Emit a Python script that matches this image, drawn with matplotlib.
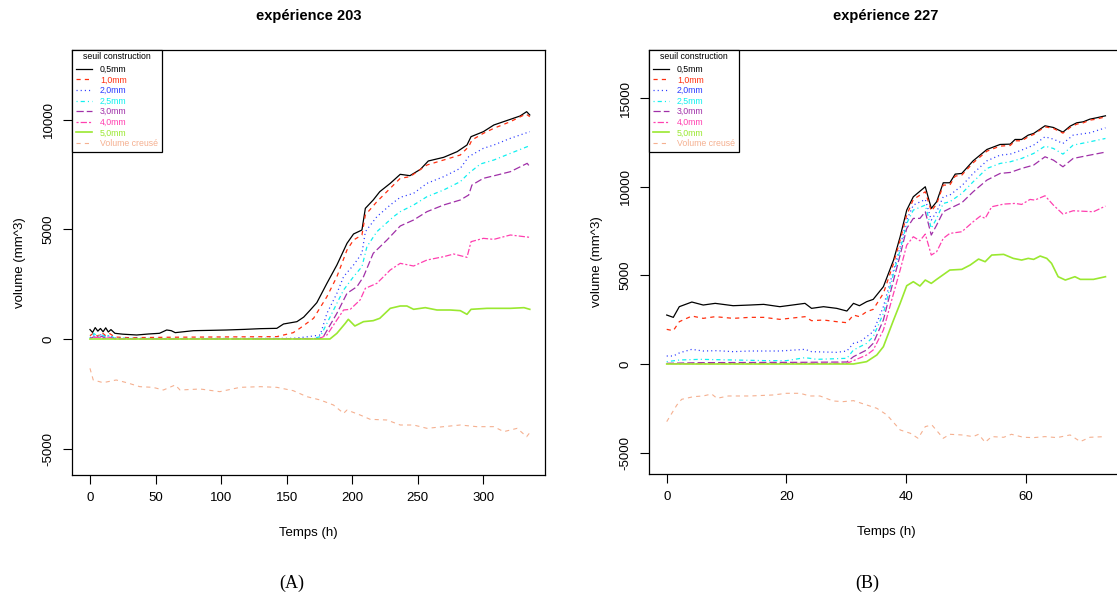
import matplotlib

matplotlib.use("Agg")

import matplotlib.pyplot as plt  # noqa: E402

plt.rcParams["font.family"] = ["Liberation Sans", "DejaVu Sans"]
plt.rcParams["lines.scale_dashes"] = False

labels = ["0,5mm", "1,0mm", "2,0mm", "2,5mm", "3,0mm", "4,0mm", "5,0mm", "Volume creusé"]

# --- expérience 203 (time in h, volume in mm^3) ---
black203_t = [0, 2, 4, 6, 8, 10, 12, 14, 16, 19, 25, 35.6, 45, 53, 58.5, 62, 65, 79, 92, 104, 118, 130,
              142.5, 147.6, 157.8, 163, 168, 173, 180.7, 188.3, 196, 201, 207.4, 210, 216, 221, 229, 236.6,
              244, 252, 258, 269.7, 280, 287.5, 290.6, 300, 308, 320.6, 328, 333, 335.4]
black203_v = [430, 300, 520, 360, 480, 330, 510, 320, 430, 260, 220, 183, 230, 260, 411, 380, 290, 380, 395,
              411, 440, 472, 487, 685, 791, 1000, 1324, 1659, 2542, 3379, 4368, 4795, 4977, 5966, 6347, 6727,
              7108, 7519, 7458, 7747, 8128, 8295, 8554, 8858, 9239, 9467, 9772, 10030, 10183, 10380, 10228]
red203_t = [0, 3, 6, 9, 12, 15, 19, 30, 60, 90, 120, 142.5, 155, 160, 170.5, 180.7, 188.3, 196, 201, 207.4,
            210, 218.8, 231.5, 236.6, 244, 257, 269.7, 282.4, 288.8, 291.3, 300, 308, 320.6, 332.5, 335.4]
red203_v = [150, 280, 120, 300, 150, 250, 90, 60, 80, 90, 100, 107, 289, 487, 944, 1933, 2846, 4064, 4520,
            4749, 5662, 6271, 7032, 7336, 7412, 7945, 8173, 8401, 8782, 9087, 9391, 9620, 9924, 10274, 10152]
blue203_t = [0, 3, 6, 9, 12, 15, 19, 60, 120, 155, 166.6, 175.6, 180.7, 188.3, 193.4, 201, 207.4, 210,
             218.8, 229, 236.6, 246.8, 257, 269.7, 282.4, 288.8, 300, 308, 320.6, 335.4]
blue203_v = [60, 180, 80, 220, 100, 160, 40, 20, 25, 30, 107, 183, 1172, 2085, 2846, 3379, 3912, 4901, 5586,
             6119, 6469, 6652, 7108, 7412, 7793, 8325, 8706, 8858, 9163, 9467]
cyan203_t = [0, 3, 6, 9, 12, 15, 19, 60, 120, 170, 175.6, 180.7, 188.3, 193.4, 201, 207.4, 211.2, 218.8,
             231.5, 236.6, 246.8, 257, 269.7, 282.4, 288.8, 297.7, 308, 320.6, 335.4]
cyan203_v = [40, 250, 120, 200, 80, 180, 30, 10, 10, 20, 107, 715, 1629, 2237, 2846, 3303, 4216, 4901, 5586,
             5814, 6119, 6499, 6804, 7184, 7564, 7990, 8173, 8477, 8828]
purple203_t = [0, 3, 6, 9, 12, 15, 19, 60, 120, 175, 178, 188.3, 196, 203.6, 208.6, 216, 226.5, 236.6,
               246.8, 257, 269.7, 282.4, 288.8, 291.3, 300, 310.5, 320.6, 333.4, 335.4]
purple203_v = [20, 100, 40, 120, 30, 80, 10, 5, 5, 20, 107, 1172, 2085, 2389, 2846, 3912, 4520, 5160, 5434,
               5814, 6119, 6347, 6575, 7032, 7336, 7488, 7640, 8021, 7869]
pink203_t = [0, 5, 10, 15, 19, 60, 120, 175, 180.7, 188.3, 193.4, 198.5, 206, 210, 218.8, 229, 236.6,
             246.8, 257, 269.7, 277.4, 287.5, 290.6, 300, 308, 320.6, 335.4]
pink203_v = [10, 80, 20, 60, 5, 0, 0, 20, 183, 868, 1324, 1355, 1781, 2313, 2542, 3151, 3455, 3333, 3607,
             3759, 3881, 3729, 4444, 4596, 4550, 4749, 4642]
green203_t = [0, 100, 183, 188.3, 194.7, 197, 202, 208.6, 216, 221, 229, 236.6, 241.7, 246.8, 255.7, 264.6,
              274.8, 282.4, 287.5, 290.6, 302.8, 320.6, 331, 335.4]
green203_v = [0, 0, 0, 259, 715, 898, 594, 792, 837, 944, 1400, 1507, 1507, 1355, 1431, 1324, 1324, 1294,
              1126, 1355, 1400, 1400, 1431, 1355]
salmon203_t = [0, 2.5, 10, 20, 28, 38, 48, 56, 65, 68.7, 84, 99, 114.5, 130, 142.5, 155, 165.4, 175.6,
               185.7, 193.4, 196, 206, 213.7, 226.5, 236.6, 246.8, 257, 269.7, 282.4, 295, 308, 315.5,
               325.8, 333, 335.4]
salmon203_v = [-1339, -1872, -1994, -1872, -1994, -2177, -2207, -2329, -2100, -2329, -2283, -2405, -2207,
               -2177, -2207, -2359, -2633, -2785, -3014, -3394, -3242, -3470, -3668, -3699, -3927, -3927,
               -4079, -4003, -3927, -4003, -4003, -4231, -4079, -4460, -4277]

# --- expérience 227 ---
bk227_t = [0, 1.1, 2.1, 4.2, 6.1, 8.1, 11.1, 13.9, 16.2, 18.9, 23.1, 24.2, 26.2, 28.4, 30.1, 31.2, 32.2,
           33.4, 34.5, 36.2, 37.9, 39.0, 40.1, 41.2, 43.2, 44.2, 45.1, 46.2, 47.3, 48.2, 49.3, 51.2, 53.5,
           55.7, 57.4, 58.2, 59.3, 60.4, 61.3, 63.2, 64.6, 66.2, 67.4, 68.5, 69.6, 70.7, 71.8, 73.3]
black227_v = [2764, 2632, 3234, 3497, 3328, 3422, 3290, 3328, 3365, 3234, 3422, 3140, 3234, 3140, 2989,
              3422, 3290, 3516, 3647, 4362, 5866, 7182, 8686, 9438, 10002, 8780, 9156, 10227, 10227, 10716,
              10754, 11468, 12107, 12389, 12408, 12671, 12671, 12916, 13010, 13442, 13348, 13085, 13423,
              13611, 13668, 13818, 13893, 14006]
red227_v = [1955, 1880, 2388, 2707, 2576, 2670, 2576, 2632, 2632, 2519, 2670, 2444, 2482, 2388, 2331, 2764,
            2670, 2952, 3083, 3986, 5678, 6994, 8404, 9287, 9720, 8629, 9024, 10096, 10096, 10603, 10660,
            11355, 12013, 12295, 12333, 12596, 12596, 12822, 12953, 13386, 13292, 13028, 13348, 13536,
            13611, 13762, 13818, 13950]
blue227_t = [0, 1.1, 2.2, 4.2, 6.1, 8.4, 11.1, 13.9, 18.9, 23.1, 24.2, 28.4, 30.1, 31.2, 32.3, 33.4, 34.5,
             36.2, 37.9, 39.0, 40.1, 41.2, 43.2, 44.2, 45.1, 46.2, 47.3, 49.3, 51.2, 53.5, 55.7, 57.4, 59.3,
             61.3, 63.2, 64.6, 66.2, 67.9, 70.7, 73.3]
blue227_v = [451, 451, 639, 827, 733, 752, 696, 733, 733, 827, 696, 658, 733, 1166, 1260, 1542, 1824, 3234,
             5302, 6618, 8122, 8968, 9287, 8122, 8592, 9438, 9532, 10058, 10754, 11468, 11788, 11844, 12070,
             12352, 12822, 12690, 12446, 12916, 13047, 13329]
cyan227_t = [0, 2.2, 5.6, 11.1, 16.7, 20.0, 23.1, 25.1, 30.1, 31.2, 33.4, 34.5, 36.2, 37.9, 39.0, 40.1,
             41.2, 43.2, 44.2, 45.1, 46.2, 47.3, 49.3, 51.2, 53.5, 55.7, 57.4, 59.3, 61.3, 63.2, 64.6, 66.2,
             67.9, 70.7, 73.3]
cyan227_v = [132, 226, 263, 226, 188, 188, 357, 263, 320, 790, 1166, 1542, 2858, 5114, 6430, 7934, 8686,
             8968, 7652, 8216, 9062, 9156, 9626, 10284, 11036, 11318, 11412, 11600, 11882, 12295, 12164,
             11844, 12352, 12540, 12728]
purple227_t = [0, 5.6, 22.3, 30.1, 31.2, 33.4, 34.5, 36.2, 37.9, 39.0, 40.1, 41.2, 42.3, 43.2, 44.2, 45.1,
               46.2, 47.3, 49.3, 51.2, 53.5, 55.7, 57.4, 59.3, 61.3, 63.2, 64.6, 66.2, 67.9, 70.7, 73.3]
purple227_v = [38, 75, 94, 113, 414, 790, 1166, 2482, 4738, 6148, 7652, 8216, 8216, 8592, 7276, 7840, 8592,
               8780, 9099, 9720, 10378, 10754, 10810, 11036, 11224, 11694, 11506, 11130, 11600, 11788, 11957]
pink227_t = [0, 11.1, 30.1, 31.2, 33.4, 34.5, 36.2, 37.9, 39.0, 40.1, 41.2, 42.3, 43.2, 44.2, 45.1, 46.2,
             47.3, 49.3, 51.2, 52.4, 53.2, 54.3, 56.3, 58.2, 59.3, 60.7, 61.5, 63.2, 64.6, 66.2, 67.9, 71.3,
             73.3]
pink227_v = [20, 20, 40, 188, 508, 790, 1918, 3986, 5302, 6712, 7182, 6956, 7332, 6148, 6336, 7088, 7370,
             7464, 8028, 8347, 8216, 8874, 9024, 9062, 9005, 9287, 9250, 9494, 8968, 8460, 8648, 8592, 8911]
green227_t = [0, 31.2, 33.4, 35.1, 36.2, 37.9, 39.0, 40.1, 41.2, 42.3, 43.2, 44.2, 45.1, 47.3, 49.3, 50.7,
              52.1, 53.2, 54.3, 56.3, 57.9, 59.3, 60.4, 61.3, 62.4, 63.5, 64.3, 65.4, 66.6, 68.2, 69.1,
              71.3, 73.3]
green227_v = [0, 0, 132, 508, 978, 2482, 3422, 4418, 4644, 4400, 4738, 4550, 4776, 5302, 5340, 5584, 5922,
              5772, 6148, 6186, 5960, 5866, 5960, 5904, 6092, 5960, 5678, 4926, 4738, 4926, 4776, 4776, 4926]
salmon227_t = [0, 1.7, 2.5, 4.5, 6.1, 7.5, 8.4, 10.3, 13.9, 17.8, 20.0, 22.3, 23.9, 25.6, 27.8, 29.5, 31.2,
               33.4, 35.1, 36.8, 39.0, 40.7, 42.0, 43.2, 44.3, 46.2, 47.3, 49.3, 51.2, 52.1, 53.2, 54.3,
               56.3, 57.6, 59.6, 61.3, 63.2, 65.2, 67.4, 69.1, 70.7, 73.3]
salmon227_v = [-3252, -2312, -1993, -1842, -1805, -1692, -1936, -1805, -1805, -1748, -1654, -1654, -1805,
               -1805, -2087, -2124, -2068, -2312, -2500, -2876, -3722, -3910, -4192, -3534, -3440, -4192,
               -3967, -4004, -4098, -3967, -4418, -4098, -4136, -3967, -4136, -4155, -4098, -4155, -4004,
               -4380, -4136, -4098]

colors = ["black", "#ff3010", "#2b3bff", "#10f0f0", "#a030a8", "#ff40b0", "#9ae830", "#f5b090"]
styles = ["-", (0, (3, 3)), (0, (0.8, 2.2)), (0, (0.8, 2.2, 3, 2.2)), (0, (5.2, 2.2)),
          (0, (1.5, 1.5, 4.5, 1.5)), "-", (0, (3, 3))]
widths = [0.9, 0.9, 0.9, 0.9, 0.9, 0.9, 1.2, 0.8]

panel203 = [(black203_t, black203_v), (red203_t, red203_v), (blue203_t, blue203_v), (cyan203_t, cyan203_v),
            (purple203_t, purple203_v), (pink203_t, pink203_v), (green203_t, green203_v),
            (salmon203_t, salmon203_v)]
panel227 = [(bk227_t, black227_v), (bk227_t, red227_v), (blue227_t, blue227_v), (cyan227_t, cyan227_v),
            (purple227_t, purple227_v), (pink227_t, pink227_v), (green227_t, green227_v),
            (salmon227_t, salmon227_v)]

fig = plt.figure(figsize=(11.17, 5.96), dpi=100)


def draw(rect, series, title, xlim, ylim, xticks, yticks, title_x):
    ax = fig.add_axes(rect)
    for (t, v), c, ls, lw, lab in zip(series, colors, styles, widths, labels):
        ax.plot(t, v, color=c, linestyle=ls, linewidth=lw, label=lab)
    ax.set_xlim(*xlim)
    ax.set_ylim(*ylim)
    ax.set_xticks(xticks)
    ax.set_yticks(yticks)
    ax.set_yticklabels([str(y) for y in yticks], rotation=90, va="center")
    ax.tick_params(length=6.5, width=0.8, labelsize=9.5, pad=6)
    for s in ax.spines.values():
        s.set_linewidth(0.9)
    ax.set_xlabel("Temps (h)", fontsize=9.5, labelpad=16)
    ax.set_ylabel("volume (mm^3)", fontsize=9.5, labelpad=12)
    fig.text(title_x, 1 - 16 / 596, title, fontsize=10.5, fontweight="bold", ha="center", va="center")
    leg = ax.legend(loc="upper left", borderaxespad=0, fontsize=6.3, title="seuil construction",
                    title_fontsize=6.3, fancybox=False, edgecolor="black", framealpha=1,
                    handlelength=1.8, handletextpad=0.9, labelspacing=0.18, borderpad=0.5)
    leg.get_frame().set_linewidth(0.9)
    leg.get_title().set_position((0, 2))
    for txt, c in zip(leg.get_texts(), colors):
        txt.set_color(c)
    return ax


draw([72 / 1117, 121 / 596, 473 / 1117, 425 / 596], panel203, "expérience 203",
     (-13.7, 347), (-6210, 13196), [0, 50, 100, 150, 200, 250, 300], [-5000, 0, 5000, 10000], 309 / 1117)
draw([649 / 1117, 122 / 596, 475 / 1117, 424 / 596], panel227, "expérience 227",
     (-2.96, 76.4), (-6208, 17720), [0, 20, 40, 60], [-5000, 0, 5000, 10000, 15000], 886 / 1117)

fig.text(292 / 1117, 1 - 583 / 596, "(A)", fontsize=13, family="Liberation Serif", ha="center", va="center")
fig.text(867 / 1117, 1 - 583 / 596, "(B)", fontsize=13, family="Liberation Serif", ha="center", va="center")

fig.savefig("out.png", dpi=100)
